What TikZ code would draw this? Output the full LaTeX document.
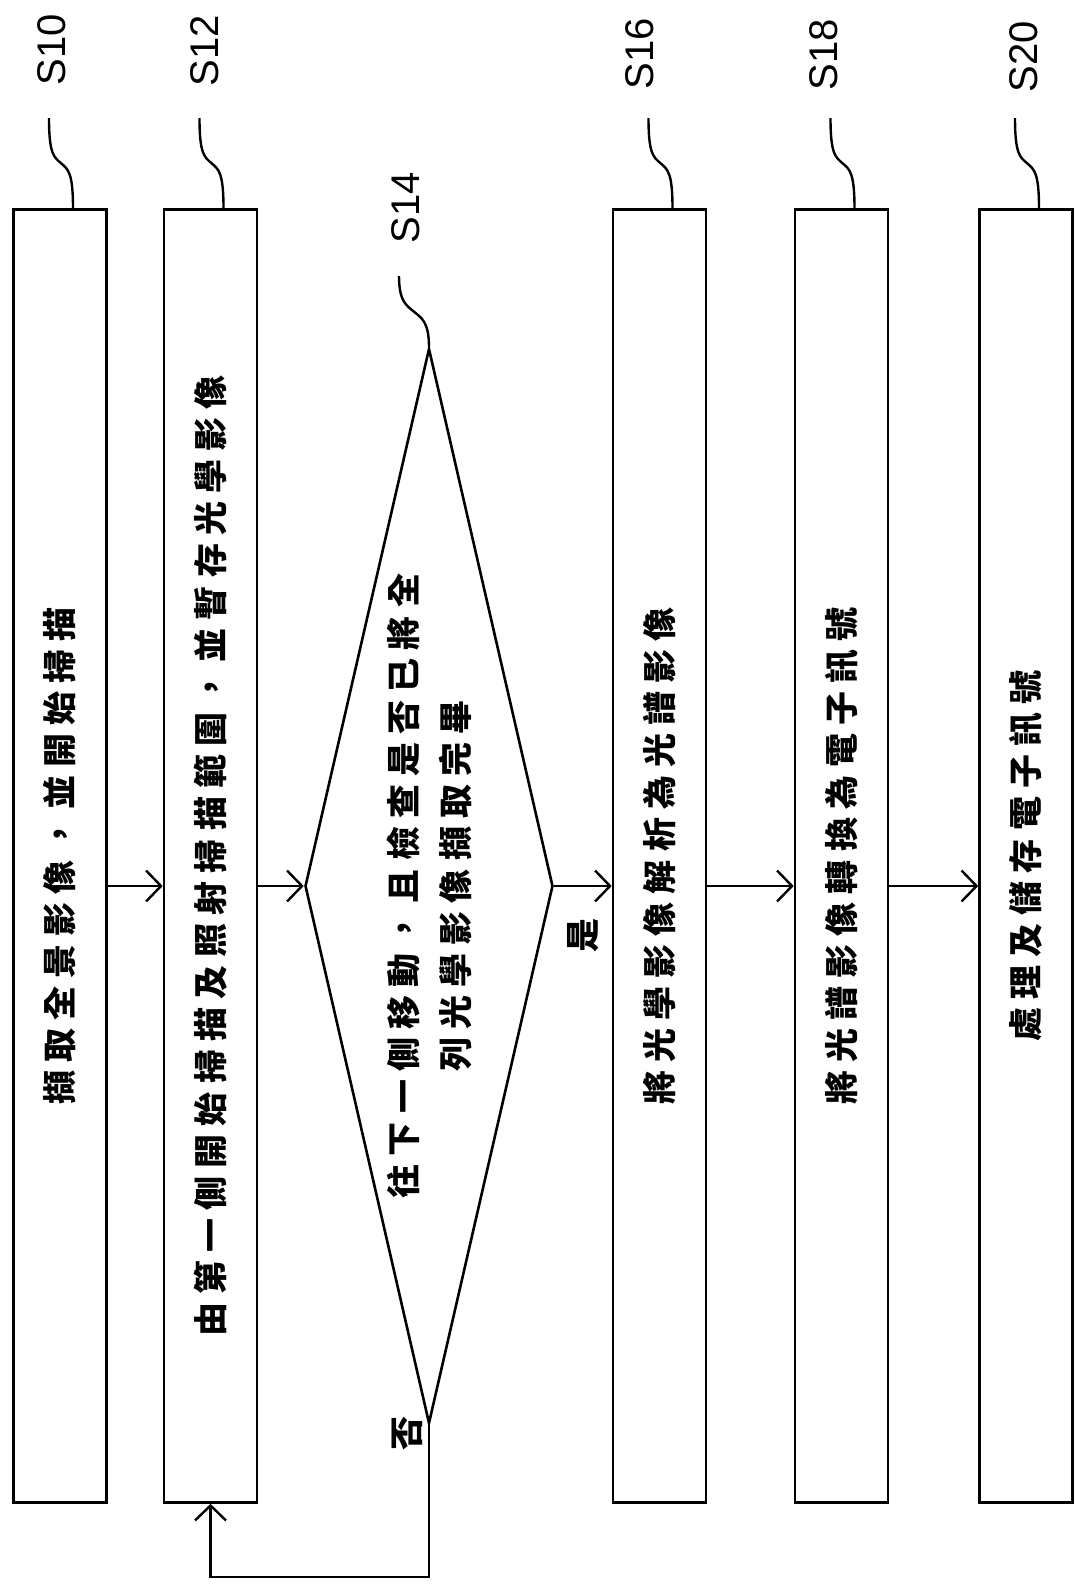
\documentclass[tikz,border=0pt]{standalone}
\usepackage{fontspec}
\setmainfont{Liberation Sans}
\newfontfamily\cjk[LetterSpace=24]{Noto Sans CJK TC}
\usetikzlibrary{shapes.geometric,arrows.meta,positioning,calc}
\newcommand{\leaderline}[3][36]{\draw[leader] (#2) .. controls +(0,#1) and +(-7,-6) .. ($(#2)!0.5!(#3)$) .. controls +(7,6) and +(0,-#1) .. (#3);}

\begin{document}
\begin{tikzpicture}[x=0.5pt, y=-0.5pt,
    stepbox/.style={draw, line width=1.3pt, rotate=90, minimum width=646.5pt, minimum height=46.5pt, inner sep=0pt, font=\cjk\bfseries\fontsize{17pt}{20pt}\selectfont},
    decision/.style={draw, diamond, line width=1.3pt, rotate=90, aspect=4.33, minimum width=537.5pt, minimum height=124pt, inner sep=0pt, align=center, font=\cjk\bfseries\fontsize{17pt}{26pt}\selectfont},
    steplabel/.style={rotate=90, inner sep=0pt, font=\fontsize{20pt}{24pt}\selectfont},
    tag/.style={rotate=90, inner sep=0pt, font=\cjk\bfseries\fontsize{17pt}{20pt}\selectfont},
    leader/.style={line width=1.2pt},
    flow/.style={-{Straight Barb[length=7.5pt, width=15.5pt]}, line width=1.2pt}]
    \useasboundingbox (0,0) rectangle (1075,1585);
    % steps
    \node[stepbox] (s10) at (60,856) {擷取全景影像，並開始掃描};
    \node[stepbox] (s12) at (210.5,856) {由第一側開始掃描及照射掃描範圍，並暫存光學影像};
    \node[decision] (d14) at (429,886) {往下一側移動，且檢查是否已將全\\列光學影像擷取完畢};
    \node[stepbox] (s16) at (659.5,856) {將光學影像解析為光譜影像};
    \node[stepbox] (s18) at (841.5,856) {將光譜影像轉換為電子訊號};
    \node[stepbox] (s20) at (1026,856) {處理及儲存電子訊號};
    % step labels and leaders
    \foreach \n/\lx/\ly in {10/52/50, 12/205/51, 16/640/54, 18/824/55, 20/1024/57} {
        \node[steplabel] (l\n) at (\lx,\ly) {S\n};
        \coordinate (e\n) at ($(s\n.east)+(13,0)$);
        \coordinate (b\n) at ($(e\n)+(-24,-90)$);
        \leaderline{b\n}{e\n}
    }
    \node[steplabel] (l14) at (406,208) {S14};
    \coordinate (b14) at ($(d14.east)+(-30,-71)$);
    \leaderline[26]{b14}{d14.east}
    % connectors
    \draw[flow] (s10.south |- d14) -- (s12.north |- d14);
    \draw[flow] (s12.south |- d14) -- (d14.north);
    \draw[flow] (d14.south) -- (s16.north |- d14);
    \draw[flow] (s16.south |- d14) -- (s18.north |- d14);
    \draw[flow] (s18.south |- d14) -- (s20.north |- d14);
    \coordinate (loop) at (0,1577);
    \draw[flow] (d14.west) -- (d14.west |- loop) -| (s12.west);
    \node[tag] (yes) at ($(d14.south)+(29,49)$) {是};
    \node[tag] (no) at ($(d14.west)+(-22,9)$) {否};
\end{tikzpicture}
\end{document}
